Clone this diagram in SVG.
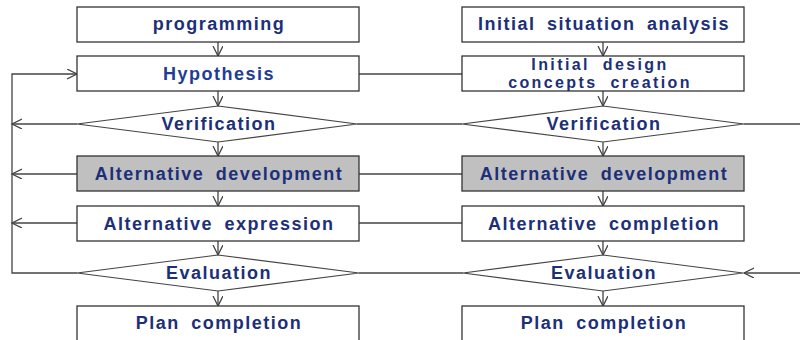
<svg xmlns="http://www.w3.org/2000/svg" width="800" height="340" viewBox="0 0 800 340">
  <style>
    .box { fill: #ffffff; stroke: #333333; stroke-width: 1.3; }
    .grey { fill: #c0c0c0; }
    .dia { fill: #ffffff; stroke: #444444; stroke-width: 1.2; }
    .lbl { font-family: "Liberation Sans", Arial, sans-serif; font-weight: bold; font-size: 18px; fill: #1c2f78; letter-spacing: 1.5px; word-spacing: 5px; text-anchor: middle; }
    .lbl2 { font-size: 16px; letter-spacing: 2.4px; word-spacing: 6px; }
    .ln { fill: none; stroke: #444444; stroke-width: 1.3; }
  </style>
  <defs>
    <marker id="arr" markerUnits="userSpaceOnUse" markerWidth="12" markerHeight="12" refX="10" refY="5" orient="auto">
      <path d="M0,0 L10,5 L0,10" fill="none" stroke="#444444" stroke-width="1.3"/>
    </marker>
  </defs>

  <rect width="800" height="340" fill="#ffffff"/>

  <!-- connectors -->
  <g id="connectors" class="ln">
    <!-- left column flow -->
    <path d="M218,42 V56" marker-end="url(#arr)"/>
    <path d="M218,91 V106" marker-end="url(#arr)"/>
    <path d="M218,142 V156" marker-end="url(#arr)"/>
    <path d="M218,191 V206" marker-end="url(#arr)"/>
    <path d="M218,241 V255" marker-end="url(#arr)"/>
    <path d="M218,291 V306" marker-end="url(#arr)"/>
    <!-- right column flow -->
    <path d="M603,42 V56" marker-end="url(#arr)"/>
    <path d="M603,91 V106" marker-end="url(#arr)"/>
    <path d="M603,142 V156" marker-end="url(#arr)"/>
    <path d="M603,191 V206" marker-end="url(#arr)"/>
    <path d="M603,241 V255" marker-end="url(#arr)"/>
    <path d="M603,291 V306" marker-end="url(#arr)"/>
    <!-- left feedback loop -->
    <path d="M77,273 H12 V74 H77" marker-end="url(#arr)"/>
    <path d="M77,124 H12" marker-end="url(#arr)"/>
    <path d="M77,174 H12" marker-end="url(#arr)"/>
    <path d="M77,223 H12" marker-end="url(#arr)"/>
    <!-- links between columns -->
    <path d="M359,74 H462"/>
    <path d="M357,124 H462"/>
    <path d="M359,174 H462"/>
    <path d="M359,223 H462"/>
    <path d="M359,273 H463"/>
    <!-- right side -->
    <path d="M744,124 H800"/>
    <path d="M800,273 H744" marker-end="url(#arr)"/>
  </g>

  <!-- left column -->
  <g id="programming">
    <rect class="box" x="77" y="7" width="282" height="35"/>
    <text class="lbl" x="219" y="30">programming</text>
  </g>
  <g id="hypothesis">
    <rect class="box" x="77" y="56" width="282" height="35"/>
    <text class="lbl" x="219" y="80" style="fill:#1f3c96">Hypothesis</text>
  </g>
  <g id="verification-l">
    <polygon class="dia" points="77,124 218,106 357,124 218,142"/>
    <text class="lbl" x="219" y="130">Verification</text>
  </g>
  <g id="alt-development-l">
    <rect class="box grey" x="77" y="156" width="282" height="35"/>
    <text class="lbl" x="219" y="180">Alternative development</text>
  </g>
  <g id="alt-expression">
    <rect class="box" x="77" y="206" width="282" height="35"/>
    <text class="lbl" x="219" y="230">Alternative expression</text>
  </g>
  <g id="evaluation-l">
    <polygon class="dia" points="77,273 218,255 359,273 218,291"/>
    <text class="lbl" x="219" y="279">Evaluation</text>
  </g>
  <g id="plan-completion-l">
    <rect class="box" x="77" y="306" width="282" height="40"/>
    <text class="lbl" x="219" y="329">Plan completion</text>
  </g>

  <!-- right column -->
  <g id="initial-situation">
    <rect class="box" x="462" y="7" width="282" height="35"/>
    <text class="lbl" x="604" y="30">Initial situation analysis</text>
  </g>
  <g id="initial-design">
    <rect class="box" x="462" y="56" width="282" height="35"/>
    <text class="lbl lbl2" x="600" y="70">Initial design</text>
    <text class="lbl lbl2" x="600" y="88">concepts creation</text>
  </g>
  <g id="verification-r">
    <polygon class="dia" points="462,124 603,106 744,124 603,142"/>
    <text class="lbl" x="604" y="130">Verification</text>
  </g>
  <g id="alt-development-r">
    <rect class="box grey" x="462" y="156" width="282" height="35"/>
    <text class="lbl" x="604" y="180">Alternative development</text>
  </g>
  <g id="alt-completion">
    <rect class="box" x="462" y="206" width="282" height="35"/>
    <text class="lbl" x="604" y="230">Alternative completion</text>
  </g>
  <g id="evaluation-r">
    <polygon class="dia" points="463,273 603,255 743,273 603,291"/>
    <text class="lbl" x="604" y="279">Evaluation</text>
  </g>
  <g id="plan-completion-r">
    <rect class="box" x="462" y="306" width="282" height="40"/>
    <text class="lbl" x="604" y="329">Plan completion</text>
  </g>
</svg>
